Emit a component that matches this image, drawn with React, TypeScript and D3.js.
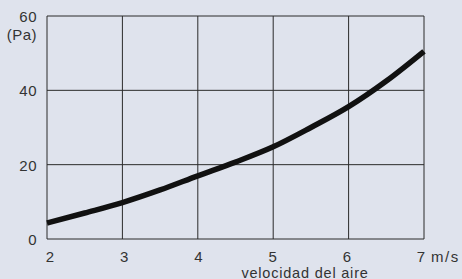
import React from "react";
import * as d3 from "d3";

const xTicks = [2, 3, 4, 5, 6, 7];
const yTicks = [0, 20, 40, 60];
const speed = [2, 2.5, 3, 3.5, 4, 4.5, 5, 5.5, 6, 6.5, 7];
const pressure = [4.3, 7.0, 9.8, 13.2, 17.0, 20.7, 24.8, 30.0, 35.6, 42.5, 50.5];
const xUnit = "m/s";
const yUnit = "(Pa)";
const xTitle = "velocidad del aire";

const W = 462;
const H = 279;
const M = { left: 47, right: 38, top: 16, bottom: 40 };

export default function App() {
  const x = d3.scaleLinear().domain([2, 7]).range([M.left, W - M.right]);
  const xLab = d3.scaleLinear().domain([2, 7]).range([50, 421]);
  const y = d3.scaleLinear().domain([0, 60]).range([H - M.bottom, M.top]);
  const pts: [number, number][] = speed.map((s, i) => [s, pressure[i]]);
  const line = d3
    .line<[number, number]>()
    .x((d) => x(d[0]))
    .y((d) => y(d[1]))
    .curve(d3.curveMonotoneX);
  const font = "'Liberation Sans', Arial, Helvetica, sans-serif";
  const grid = "#2b2b2b";
  const txt = "#333";
  return (
    <svg
      width={W}
      height={H}
      style={{ position: "fixed", left: 0, top: 0 }}
      fontFamily={font}
    >
      <rect x={0} y={0} width={W} height={H} fill="#dfe3ed" />
      {xTicks.map((t) => (
        <line
          key={"gx" + t}
          x1={x(t)}
          x2={x(t)}
          y1={y(0)}
          y2={y(60)}
          stroke={grid}
          strokeWidth={1}
        />
      ))}
      {yTicks.map((t) => (
        <line
          key={"gy" + t}
          x1={x(2)}
          x2={x(7)}
          y1={y(t)}
          y2={y(t)}
          stroke={grid}
          strokeWidth={1}
        />
      ))}
      <path d={line(pts) || ""} fill="none" stroke="#111" strokeWidth={5.5} strokeLinecap="butt" />
      {yTicks.map((t) => (
        <text
          key={"ty" + t}
          x={37}
          y={y(t) + 6}
          textAnchor="end"
          fontSize={15}
          letterSpacing={0.5}
          fill={txt}
        >
          {t}
        </text>
      ))}
      <text x={37} y={40} textAnchor="end" fontSize={15} letterSpacing={0.5} fill={txt}>
        {yUnit}
      </text>
      {xTicks.map((t) => (
        <text
          key={"tx" + t}
          x={xLab(t)}
          y={262}
          textAnchor="middle"
          fontSize={15}
          fill={txt}
        >
          {t}
        </text>
      ))}
      <text x={431} y={262} fontSize={15} letterSpacing={1.5} fill={txt}>
        {xUnit}
      </text>
      <text x={305} y={277.5} textAnchor="middle" fontSize={14.5} letterSpacing={0.8} fill={txt}>
        {xTitle}
      </text>
    </svg>
  );
}
